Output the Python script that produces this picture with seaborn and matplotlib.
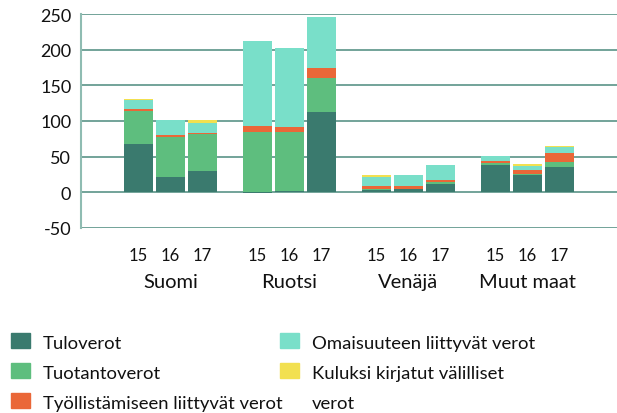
import matplotlib.pyplot as plt
import matplotlib.transforms as mtransforms
from matplotlib.patches import Rectangle
import numpy as np
import pandas as pd
import seaborn as sns

# verot maittain, vuodet 2015-2017 (milj. euroa)
groups = ["Suomi", "Ruotsi", "Venäjä", "Muut maat"]
years = ["15", "16", "17"]

tuloverot = [67, 21, 29, -1.5, 1, 113, 3.5, 4, 11.5, 38, 24, 35]
tuotantoverot = [47, 56, 52, 84, 84, 48, 0.5, 0.5, 2.5, 3, 1, 7]
tyollistamisverot = [3, 3, 1.5, 9.5, 7, 13, 4.5, 3.5, 3, 3, 6, 13]
omaisuusverot = [13, 22, 14, 119.5, 111, 72.5, 13, 16, 21, 7, 6, 8.5]
valilliset_verot = [1.5, 0, 4.5, 0, 0, 0, 2, 0, 0, 0, 3, 1.5]

labels = ["Tuloverot", "Tuotantoverot", "Työllistämiseen liittyvät verot",
          "Omaisuuteen liittyvät verot", "Kuluksi kirjatut välilliset\nverot"]
colors = ["#3a7a6e", "#5ebe7e", "#ea6738", "#79dfc9", "#f2e050"]
series = [tuloverot, tuotantoverot, tyollistamisverot, omaisuusverot, valilliset_verot]

sns.set_theme(style="white")
plt.rcParams["font.family"] = ["Lato", "DejaVu Sans"]

W, H = 617, 414
fig = plt.figure(figsize=(W / 100, H / 100), dpi=100)
ax = fig.add_axes([81 / W, 1 - 229 / H, 536 / W, 214 / H])

# kolme vuotta per maa, väli maiden välillä
step = 3.72
pos = np.array([g * step + i for g in range(len(groups)) for i in range(len(years))])

pos_base = np.zeros(len(pos))
neg_base = np.zeros(len(pos))
for vals, color in zip(series, colors):
    v = np.array(vals, dtype=float)
    bottom = np.where(v >= 0, pos_base, neg_base)
    df = pd.DataFrame({"x": pos, "y": v})
    sns.barplot(data=df, x="x", y="y", bottom=bottom, native_scale=True, orient="x",
                width=29 / 32, color=color, saturation=1, errorbar=None,
                linewidth=0, ax=ax)
    pos_base += np.clip(v, 0, None)
    neg_base += np.clip(v, None, 0)

ax.set_xlim(-1.8, pos[-1] + 1.8)
ax.set_ylim(-50.6, 250.6)
ax.set_yticks(range(-50, 251, 50))
ax.set_yticklabels([str(t) for t in range(-50, 251, 50)], fontsize=13, color="#111111")
ax.set_xticks(pos)
ax.set_xticklabels(years * len(groups), fontsize=12, color="#111111")
ax.tick_params(axis="both", length=0)
ax.tick_params(axis="y", pad=7)
ax.tick_params(axis="x", pad=14)
ax.set_xlabel("")
ax.set_ylabel("")

ax.set_axisbelow(True)
ax.grid(axis="y", color="#72a399", linewidth=1.4)
ax.grid(axis="x", visible=False)
for side in ["top", "right", "bottom"]:
    ax.spines[side].set_visible(False)
ax.spines["left"].set_color("#8fbcb2")
ax.spines["left"].set_linewidth(1.5)

# maiden nimet
trans = mtransforms.blended_transform_factory(ax.transData, fig.transFigure)
for g, name in enumerate(groups):
    ax.text(g * step + 1, 1 - 288 / H, name, transform=trans, ha="center",
            va="baseline", fontsize=14.5, color="#111111")

# selite
legend_x = [11, 280]
text_x = [43, 312]
row_gap = 30
for k, (lab, color) in enumerate(zip(labels, colors)):
    col, row = divmod(k, 3)
    base = 349 + row * row_gap
    fig.patches.append(Rectangle((legend_x[col] / W, 1 - base / H), 19 / W, 15 / H,
                                 transform=fig.transFigure, color=color))
    # va="baseline" osuu viimeisen rivin pohjaviivaan
    last_base = base + row_gap * lab.count("\n")
    fig.text(text_x[col] / W, 1 - last_base / H, lab, ha="left", va="baseline",
             fontsize=13.3, color="#111111", linespacing=2.05)

fig.savefig("out.png", dpi=100)
